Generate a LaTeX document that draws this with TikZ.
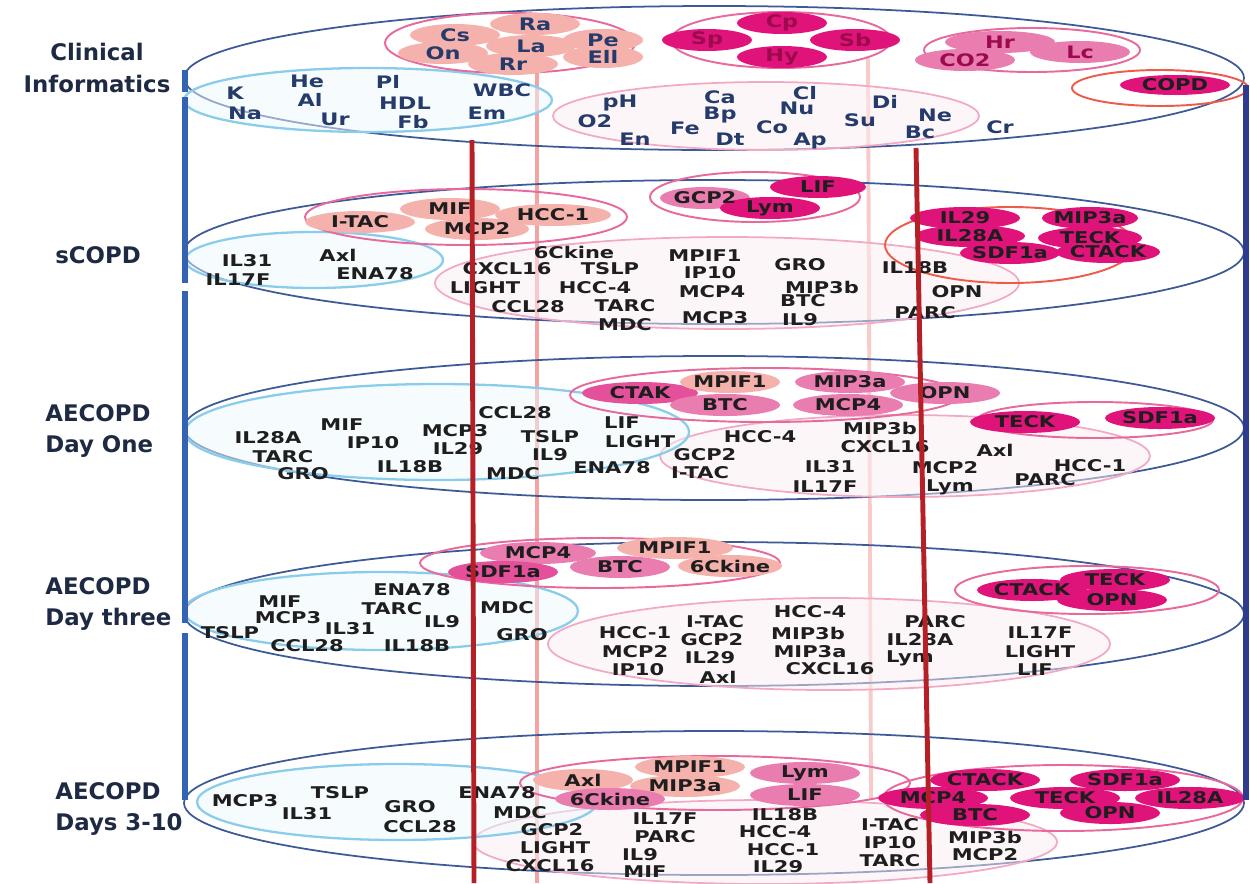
\documentclass[tikz,border=0pt]{standalone}
\usepackage{fontspec}
\newfontfamily\cytofont{DejaVu Sans}[FakeStretch=1.3]
\newfontfamily\tierfont{DejaVu Sans}
\definecolor{navyline}{HTML}{3D5A96}
\definecolor{skyline}{HTML}{8ACDEB}
\definecolor{skyfill}{HTML}{EEF7FC}
\definecolor{pinkline}{HTML}{E8699C}
\definecolor{blush}{HTML}{F2A9C4}
\definecolor{blushfill}{HTML}{FCEEF3}
\definecolor{coral}{HTML}{EE5B4B}
\definecolor{salmon}{HTML}{F5B2AC}
\definecolor{rosy}{HTML}{EA7DB0}
\definecolor{deeprose}{HTML}{E4509A}
\definecolor{magen}{HTML}{E0137A}
\definecolor{brick}{HTML}{B52027}
\definecolor{shell}{HTML}{F4A3A3}
\definecolor{shellpale}{HTML}{F8CACA}
\definecolor{barblue}{HTML}{3463B4}
\definecolor{barnavy}{HTML}{2E3B8E}
\definecolor{inktop}{HTML}{243B6B}
\definecolor{ink}{HTML}{1E1E1E}
\definecolor{plum}{HTML}{9C0A4E}
\definecolor{labelink}{HTML}{1E2A44}
\tikzset{
  tier/.style={draw=navyline, line width=1pt},
  skygroup/.style={draw=skyline, line width=1.3pt, fill=skyfill, fill opacity=0.5},
  rosegroup/.style={draw=pinkline, line width=1.1pt},
  coralgroup/.style={draw=coral, line width=1.1pt},
  cloud/.style={draw=blush, line width=1pt, fill=blushfill, fill opacity=0.5},
  salmonchip/.style={fill=salmon},
  rosechip/.style={fill=rosy},
  deepchip/.style={fill=deeprose},
  magchip/.style={fill=magen},
  cyto/.style={font=\cytofont\bfseries\fontsize{9.2}{10}\selectfont, inner sep=0pt, text=ink},
  cytotop/.style={cyto, font=\cytofont\bfseries\fontsize{9.8}{10}\selectfont, text=inktop},
  cytoplum/.style={cytotop, text=plum},
  guide/.style={line width=2.6pt, draw=shell},
  paleguide/.style={line width=2.2pt, draw=shellpale},
  marker/.style={line width=2.8pt, draw=brick},
  spine/.style={line width=3.3pt, draw=barblue},
  tierlabel/.style={font=\tierfont\bfseries\fontsize{13}{18}\selectfont, text=labelink, inner sep=0pt}
}
\begin{document}
\begin{tikzpicture}[x=0.02cm,y=-0.02cm]
\useasboundingbox (0,0) rectangle (1250,883);

% pale guide lines behind the tiers
\coordinate (guideAtop) at (537,38);
\coordinate (guideAbot) at (537,883);
\coordinate (guideBtop) at (868,58);
\coordinate (guideBbot) at (871,800);
\draw[guide] (guideAtop) -- (guideAbot);
\draw[paleguide] (guideBtop) -- (guideBbot);

% the five tiers
\foreach \y in {78,252,428,614,803}
  \draw[tier] (714,\y) ellipse [x radius=530, y radius=72];

% ---- Clinical Informatics
\draw[cloud] (766,116) ellipse [x radius=213, y radius=34];
\draw[skygroup] (368,100) ellipse [x radius=184, y radius=32];
\draw[rosegroup] (510,43) ellipse [x radius=125, y radius=30];
\draw[rosegroup] (781,40) ellipse [x radius=110, y radius=28];
\draw[rosegroup] (1032,50) ellipse [x radius=108, y radius=22];
\draw[coralgroup] (1160,88) ellipse [x radius=88, y radius=18];
\def\cisalmon{455/35/45/salmonchip/Cs, 535/24/45/salmonchip/Ra, 603/40/40/salmonchip/Pe,
  443/53/45/salmonchip/On, 531/46/45/salmonchip/La, 603/57/40/salmonchip/Ell, 513/64/45/salmonchip/Rr}
\def\cimag{782/23/45/magchip/Cp, 707/40/45/magchip/Sp, 855/40/45/magchip/Sb, 782/57/45/magchip/Hy,
  1000/42/55/rosechip/Hr, 965/60/50/rosechip/CO2, 1080/52/50/rosechip/Lc}
\foreach \x/\y/\r/\c/\t in \cisalmon {\fill[\c] (\x,\y) ellipse [x radius=\r, y radius=11];}
\foreach \x/\y/\r/\c/\t in \cisalmon {\node[cytotop] (ci-\t) at (\x,\y) {\t};}
\foreach \x/\y/\r/\c/\t in \cimag {\fill[\c] (\x,\y) ellipse [x radius=\r, y radius=11];}
\foreach \x/\y/\r/\c/\t in \cimag {\node[cytoplum] (ci-\t) at (\x,\y) {\t};}
\fill[magchip] (1175,85) ellipse [x radius=55, y radius=10];
\node[cyto] (ci-COPD) at (1175,85) {COPD};
\foreach \x/\y/\t in {235/93/K, 245/113/Na, 307/81/He, 310/100/Al, 335/119/Ur, 388/82/Pl,
  405/103/HDL, 413/122/Fb, 502/90/WBC, 487/113/Em}
  \node[cytotop] (ci-\t) at (\x,\y) {\t};
\foreach \x/\y/\t in {620/103/pH, 595/121/O2, 635/139/En, 720/97/Ca, 720/115/Bp, 685/128/Fe,
  730/139/Dt, 805/93/Cl, 797/108/Nu, 772/127/Co, 810/141/Ap, 885/102/Di, 860/120/Su,
  935/115/Ne, 920/132/Bc, 1000/127/Cr}
  \node[cytotop] (ci-\t) at (\x,\y) {\t};

% ---- sCOPD
\draw[cloud] (727,283) ellipse [x radius=292, y radius=46];
\draw[skygroup] (314,260) ellipse [x radius=129, y radius=28];
\draw[rosegroup] (466,217) ellipse [x radius=161, y radius=28];
\draw[rosegroup] (755,197) ellipse [x radius=105, y radius=25];
\draw[coralgroup] (1010,245) ellipse [x radius=125, y radius=38];
\def\scchips{360/222/55/salmonchip/I-TAC, 450/209/50/salmonchip/MIF, 477/229/52/salmonchip/MCP2,
  553/215/58/salmonchip/HCC-1, 705/198/45/rosechip/GCP2, 818/187/48/magchip/LIF,
  770/208/50/magchip/Lym, 965/218/55/magchip/IL29, 1090/218/48/magchip/MIP3a,
  970/236/55/magchip/IL28A, 1090/238/52/magchip/TECK, 1010/253/50/magchip/SDF1a,
  1108/252/52/magchip/CTACK}
\foreach \x/\y/\r/\c/\t in \scchips {\fill[\c] (\x,\y) ellipse [x radius=\r, y radius=11];}
\foreach \x/\y/\r/\c/\t in \scchips {\node[cyto] (sc-\t) at (\x,\y) {\t};}
\foreach \x/\y/\t in {247/261/IL31, 238/280/IL17F, 338/255/Axl, 375/274/ENA78, 574/252/6Ckine,
  507/269/CXCL16, 610/269/TSLP, 485/288/LIGHT, 595/288/HCC-4, 528/307/CCL28, 625/306/TARC,
  625/325/MDC, 705/256/MPIF1, 710/273/IP10, 712/292/MCP4, 715/318/MCP3, 800/265/GRO,
  822/287/MIP3b, 803/301/BTC, 800/320/IL9, 915/268/IL18B, 957/292/OPN, 925/313/PARC}
  \node[cyto] (sc-\t) at (\x,\y) {\t};

% ---- AECOPD Day One
\draw[cloud] (905,456) ellipse [x radius=245, y radius=41];
\draw[skygroup] (437,432) ellipse [x radius=252, y radius=48];
\draw[rosegroup] (765,395) ellipse [x radius=195, y radius=27];
\draw[rosegroup] (1095,420) ellipse [x radius=118, y radius=18];
\def\dachips{640/393/58/deepchip/CTAK, 730/382/50/salmonchip/MPIF1, 850/382/55/rosechip/MIP3a,
  725/405/55/rosechip/BTC, 848/405/55/rosechip/MCP4, 945/393/55/rosechip/OPN,
  1025/422/55/magchip/TECK, 1160/418/55/magchip/SDF1a}
\foreach \x/\y/\r/\c/\t in \dachips {\fill[\c] (\x,\y) ellipse [x radius=\r, y radius=11];}
\foreach \x/\y/\r/\c/\t in \dachips {\node[cyto] (d1-\t) at (\x,\y) {\t};}
\foreach \x/\y/\t in {268/438/IL28A, 283/457/TARC, 303/474/GRO, 342/425/MIF, 373/443/IP10,
  410/467/IL18B, 455/431/MCP3, 458/449/IL29, 515/413/CCL28, 550/437/TSLP, 550/455/IL9,
  513/474/MDC, 622/423/LIF, 640/442/LIGHT, 612/468/ENA78, 705/455/GCP2, 700/473/I-TAC,
  760/437/HCC-4, 830/467/IL31, 825/487/IL17F, 880/428/MIP3b, 885/447/CXCL16, 945/468/MCP2,
  950/487/Lym, 995/450/Axl, 1045/480/PARC, 1090/466/HCC-1}
  \node[cyto] (d1-\t) at (\x,\y) {\t};

% ---- AECOPD Day three
\draw[cloud] (829,644) ellipse [x radius=281, y radius=46];
\draw[skygroup] (381,611) ellipse [x radius=197, y radius=39];
\draw[rosegroup] (600,563) ellipse [x radius=180, y radius=25];
\draw[rosegroup] (1087,590) ellipse [x radius=132, y radius=24];
\def\dbchips{538/553/58/rosechip/MCP4, 675/548/58/salmonchip/MPIF1, 503/572/55/deepchip/SDF1a,
  620/567/50/rosechip/BTC, 730/566/52/salmonchip/6Ckine, 1032/590/55/magchip/CTACK,
  1115/580/55/magchip/TECK, 1112/600/55/magchip/OPN}
\foreach \x/\y/\r/\c/\t in \dbchips {\fill[\c] (\x,\y) ellipse [x radius=\r, y radius=11];}
\foreach \x/\y/\r/\c/\t in \dbchips {\node[cyto] (d3-\t) at (\x,\y) {\t};}
\foreach \x/\y/\t in {280/602/MIF, 288/618/MCP3, 230/633/TSLP, 350/629/IL31, 307/646/CCL28,
  412/590/ENA78, 392/609/TARC, 442/622/IL9, 417/646/IL18B, 507/608/MDC, 522/635/GRO,
  635/633/HCC-1, 635/652/MCP2, 638/670/IP10, 715/622/I-TAC, 712/640/GCP2, 710/658/IL29,
  718/677/Axl, 810/612/HCC-4, 808/633/MIP3b, 810/652/MIP3a, 830/669/CXCL16, 935/622/PARC,
  920/640/IL28A, 910/658/Lym, 1040/633/IL17F, 1040/652/LIGHT, 1035/670/LIF}
  \node[cyto] (d3-\t) at (\x,\y) {\t};

% ---- AECOPD Days 3-10
\draw[cloud] (765,842) ellipse [x radius=292, y radius=42];
\draw[skygroup] (397,802) ellipse [x radius=200, y radius=38];
\draw[rosegroup] (715,783) ellipse [x radius=195, y radius=27];
\draw[rosegroup] (1063,798) ellipse [x radius=180, y radius=33];
\def\dcchips{583/780/50/salmonchip/Axl, 690/767/55/salmonchip/MPIF1, 685/786/55/salmonchip/MIP3a,
  610/799/55/rosechip/6Ckine, 805/773/55/rosechip/Lym, 805/795/55/rosechip/LIF,
  985/780/55/magchip/CTACK, 1125/780/55/magchip/SDF1a, 933/798/55/magchip/MCP4,
  1065/798/55/magchip/TECK, 1190/798/55/magchip/IL28A, 975/815/55/magchip/BTC,
  1110/813/50/magchip/OPN}
\foreach \x/\y/\r/\c/\t in \dcchips {\fill[\c] (\x,\y) ellipse [x radius=\r, y radius=11];}
\foreach \x/\y/\r/\c/\t in \dcchips {\node[cyto] (dx-\t) at (\x,\y) {\t};}
\foreach \x/\y/\t in {245/801/MCP3, 340/793/TSLP, 307/814/IL31, 410/807/GRO, 420/827/CCL28,
  497/793/ENA78, 520/813/MDC, 552/830/GCP2, 555/848/LIGHT, 550/866/CXCL16, 665/819/IL17F,
  665/837/PARC, 640/855/IL9, 645/872/MIF, 785/815/IL18B, 775/832/HCC-4, 783/850/HCC-1,
  778/867/IL29, 890/825/I-TAC, 890/843/IP10, 890/861/TARC, 985/837/MIP3b, 985/855/MCP2}
  \node[cyto] (dx-\t) at (\x,\y) {\t};

% dark red markers on top
\coordinate (markAtop) at (472,140);
\coordinate (markAbot) at (474,883);
\coordinate (markBtop) at (916,148);
\coordinate (markBbot) at (930,883);
\draw[marker] (markAtop) -- (markAbot);
\draw[marker] (markBtop) -- (markBbot);

% side bars
\coordinate (spineA) at (185,70);   \coordinate (spineB) at (185,92);
\coordinate (spineC) at (185,97);   \coordinate (spineD) at (185,283);
\coordinate (spineE) at (185,291);  \coordinate (spineF) at (185,623);
\coordinate (spineG) at (185,633);  \coordinate (spineH) at (185,800);
\draw[spine] (spineA) -- (spineB);
\draw[spine] (spineC) -- (spineD);
\draw[spine] (spineE) -- (spineF);
\draw[spine] (spineG) -- (spineH);
\coordinate (rimtop) at (1246,85);
\coordinate (rimbot) at (1246,800);
\draw[spine, draw=barnavy] (rimtop) -- (rimbot);

% tier labels
\node[tierlabel, align=center] (lab-ci) at (97,68) {Clinical\\Informatics};
\node[tierlabel] (lab-sc) at (98,255) {sCOPD};
\node[tierlabel, align=left, anchor=west] (lab-d1) at (45,431) {AECOPD\\Day One};
\node[tierlabel, align=left, anchor=west] (lab-d3) at (45,604) {AECOPD\\Day three};
\node[tierlabel, align=left, anchor=west] (lab-dx) at (55,809) {AECOPD\\Days 3-10};
\end{tikzpicture}
\end{document}
